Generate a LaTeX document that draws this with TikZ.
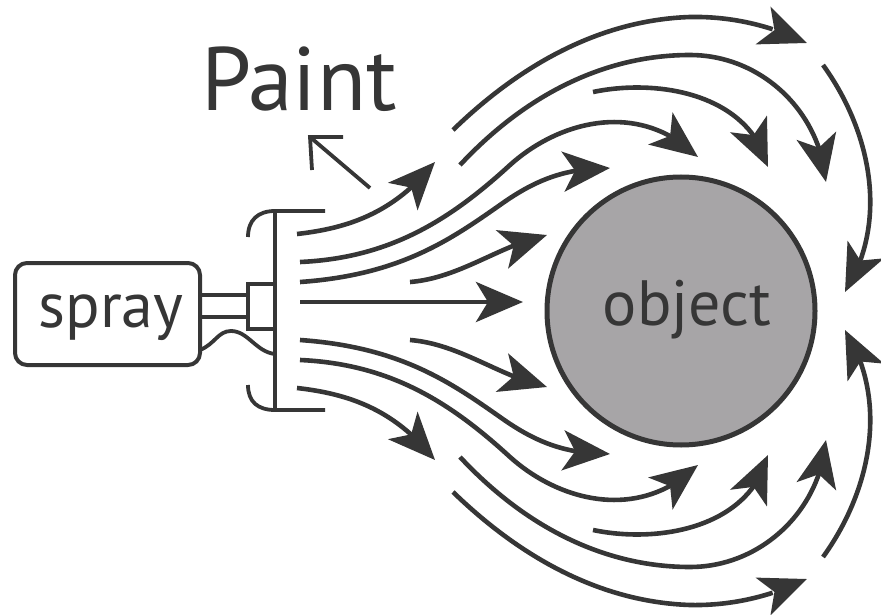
\documentclass[tikz,border=0pt]{standalone}
\usepackage{fontspec}
\setmainfont{PT Sans}
\usetikzlibrary{arrows.meta,bending}
\definecolor{ink}{HTML}{363636}
\definecolor{objfill}{HTML}{A7A5A7}
\tikzset{
  flow/.style={draw=ink, line width=4.6pt, -{Stealth[length=47pt,width=40pt,inset=12pt,flex]}},
  part/.style={draw=ink, line width=3.8pt},
  label/.style={text=ink, inner sep=0pt, outer sep=0pt}
}
\begin{document}
\begin{tikzpicture}[x=1pt,y=-1pt]
\useasboundingbox (0,0) rectangle (881,615);
% object
\node[circle, draw=ink, fill=objfill, line width=5pt, minimum size=268pt, inner sep=0pt] (obj) at (681,311) {};
\node[label, anchor=base, font=\fontsize{64}{70}\selectfont] (objtxt) at (687,325) {object};
% spray body
\node[draw=ink, line width=4pt, rounded corners=12pt, minimum width=185pt, minimum height=102pt, inner sep=0pt] (spray) at (107.5,314) {};
\node[label, anchor=base, font=\fontsize{64}{70}\selectfont] (spraytxt) at (111,327) {spray};
% nozzle
\coordinate (nzA) at (200,295); \coordinate (nzB) at (248,295);
\coordinate (nzC) at (200,317); \coordinate (nzD) at (248,317);
\draw[part] (nzA) -- (nzB);
\draw[part] (nzC) -- (nzD);
\draw[part] (248,284) rectangle (275,329);
\draw[part] (275,211) -- (275,410);
\draw[part] (248,237) .. controls (248,220) and (258,211) .. (275,211) -- (325,211);
\draw[part] (248,385) .. controls (248,402) and (258,410) .. (275,410) -- (325,410);
\draw[part] (200,350) .. controls (215,344) and (218,331) .. (231,331) .. controls (248,331) and (256,352) .. (275,354);
% Paint label and pointer
\node[label, anchor=base west, font=\fontsize{90}{100}\selectfont] (paint) at (201,111) {Paint};
\coordinate (ptail) at (370,188); \coordinate (ptip) at (310,137);
\draw[part] (ptail) -- (ptip);
\draw[part, miter limit=10] (343,137) -- (ptip) -- (312,170);
% upper flow
\draw[flow] (297,234) .. controls (350,228) and (395,212) .. (435,162);
\draw[flow] (300,262) .. controls (390,258) and (450,220) .. (510,165) .. controls (560,120) and (640,100) .. (698,157);
\draw[flow] (300,282) .. controls (400,275) and (450,240) .. (500,205) .. controls (535,180) and (565,168) .. (610,168);
\draw[flow] (410,282) .. controls (460,278) and (500,245) .. (547,235);
\draw[flow] (300,302) -- (523,302);
\draw[flow] (453,130) .. controls (520,65) and (600,20) .. (690,17) .. controls (740,16) and (780,30) .. (807,43);
\draw[flow] (460,165) .. controls (530,90) and (610,55) .. (690,55) .. controls (760,55) and (820,110) .. (826,182);
\draw[flow] (593,92) .. controls (660,78) and (750,95) .. (768,167);
\draw[flow] (823,65) .. controls (870,130) and (890,220) .. (845,292);
% lower flow
\draw[flow] (297,388) .. controls (350,394) and (395,410) .. (435,460);
\draw[flow] (300,360) .. controls (390,364) and (450,402) .. (510,457) .. controls (560,502) and (640,522) .. (698,465);
\draw[flow] (300,340) .. controls (400,347) and (450,382) .. (500,417) .. controls (535,442) and (565,454) .. (610,454);
\draw[flow] (410,340) .. controls (460,344) and (500,377) .. (547,387);
\draw[flow] (453,492) .. controls (520,557) and (600,602) .. (690,605) .. controls (740,606) and (780,592) .. (807,579);
\draw[flow] (460,457) .. controls (530,532) and (610,567) .. (690,567) .. controls (760,567) and (820,512) .. (826,440);
\draw[flow] (593,530) .. controls (660,544) and (750,527) .. (768,455);
\draw[flow] (823,557) .. controls (870,492) and (890,402) .. (845,330);
\end{tikzpicture}
\end{document}
